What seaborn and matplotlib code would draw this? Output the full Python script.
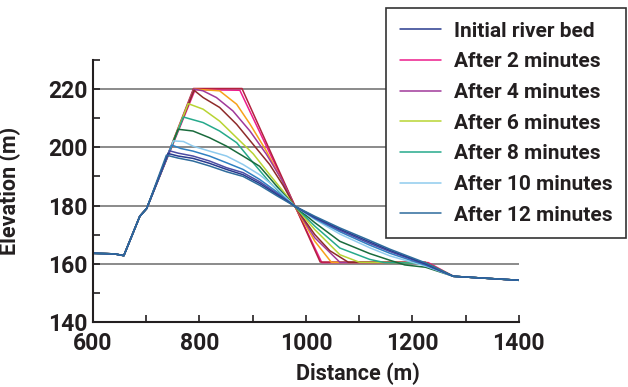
import matplotlib
matplotlib.use("Agg")
import matplotlib.pyplot as plt
import seaborn as sns
import pandas as pd

# shared upstream part and downstream tail of every profile
base_x = [600, 640, 658, 688, 701]
base_y = [163.6, 163.4, 162.8, 176.3, 179.0]
tail_x = [1277, 1340, 1403]
tail_y = [155.7, 155.0, 154.3]

# middle part of each profile (distance m, elevation m)
pink_x = [792, 876, 1030, 1230]
pink_y = [219.8, 219.6, 160.4, 160.4]
crimson_x = [789, 880, 1027, 1225]
crimson_y = [220.2, 220.2, 160.6, 160.5]
orange_x = [790, 838, 870, 895, 926, 955, 979, 1017, 1048, 1225]
orange_y = [220.0, 219.4, 214.8, 208.0, 198.7, 188.6, 179.8, 167.7, 160.5, 160.4]
purple_x = [790, 807, 832, 863, 895, 926, 955, 979, 1017, 1064, 1225]
purple_y = [220.0, 219.4, 217.1, 212.5, 205.6, 197.6, 188.8, 179.8, 168.9, 160.5, 160.4]
maroon_x = [790, 807, 838, 870, 901, 932, 957, 979, 1017, 1045, 1080, 1225]
maroon_y = [219.6, 217.1, 213.7, 207.9, 201.0, 194.1, 187.0, 179.8, 170.0, 164.5, 160.5, 160.4]
yg_x = [779, 807, 838, 870, 901, 932, 957, 979, 1017, 1064, 1101, 1225]
yg_y = [215.0, 213.1, 209.0, 203.3, 197.8, 190.6, 185.0, 179.8, 171.7, 163.1, 160.5, 160.3]
teal_x = [770, 807, 838, 870, 901, 932, 957, 979, 1017, 1064, 1120, 1148, 1225]
teal_y = [210.4, 208.5, 205.6, 201.6, 194.7, 188.0, 183.5, 179.8, 172.9, 165.4, 161.5, 160.4, 160.2]
dkgreen_x = [760, 788, 819, 851, 882, 913, 947, 979, 1017, 1064, 1120, 1158, 1186, 1225]
dkgreen_y = [206.2, 205.6, 203.3, 200.4, 197.0, 193.5, 186.3, 179.8, 174.1, 167.7, 163.5, 161.2, 159.6, 158.8]
ltblue_x = [751, 770, 788, 819, 851, 882, 913, 947, 979, 1017, 1064, 1120, 1158, 1225]
ltblue_y = [202.2, 202.0, 200.4, 198.7, 197.0, 194.1, 190.6, 185.6, 179.8, 175.2, 170.2, 165.5, 162.7, 159.2]
blue_x = [748, 765, 788, 819, 851, 882, 913, 947, 979, 1017, 1064, 1120, 1158, 1225]
blue_y = [200.8, 199.6, 198.7, 197.0, 194.7, 192.4, 189.0, 184.5, 179.8, 175.5, 171.0, 166.4, 163.6, 159.5]
indigo_x = [744, 760, 788, 819, 851, 882, 913, 947, 979, 1017, 1064, 1120, 1158, 1225]
indigo_y = [198.8, 198.0, 197.0, 195.3, 193.0, 191.3, 188.2, 184.0, 179.8, 175.8, 171.5, 167.0, 164.2, 159.8]
navy_x = [741, 760, 788, 819, 851, 882, 913, 947, 979, 1017, 1064, 1120, 1158, 1225]
navy_y = [197.9, 197.0, 196.2, 194.5, 192.4, 190.6, 187.6, 183.6, 179.8, 176.0, 171.9, 167.5, 164.6, 160.0]
steel_x = [738, 760, 788, 819, 851, 882, 913, 947, 979, 1017, 1064, 1120, 1158, 1225]
steel_y = [197.3, 196.3, 195.3, 193.6, 191.6, 190.0, 187.0, 183.2, 179.8, 176.3, 172.3, 168.0, 165.0, 160.3]

# (x, y, colour, legend label) in drawing order
series = [
    (pink_x, pink_y, "#ec1c8c", "After 2 minutes"),
    (crimson_x, crimson_y, "#b3213e", None),
    (orange_x, orange_y, "#f7a21b", None),
    (purple_x, purple_y, "#a0399a", "After 4 minutes"),
    (maroon_x, maroon_y, "#8e2b2b", None),
    (yg_x, yg_y, "#b8d433", "After 6 minutes"),
    (teal_x, teal_y, "#26a98b", "After 8 minutes"),
    (dkgreen_x, dkgreen_y, "#1a6b3c", None),
    (ltblue_x, ltblue_y, "#8fcbee", "After 10 minutes"),
    (blue_x, blue_y, "#2f80c2", None),
    (indigo_x, indigo_y, "#4b4ca3", None),
    (navy_x, navy_y, "#283a8e", "Initial river bed"),
    (steel_x, steel_y, "#2e6b9c", "After 12 minutes"),
]
legend_order = ["Initial river bed", "After 2 minutes", "After 4 minutes",
                "After 6 minutes", "After 8 minutes", "After 10 minutes",
                "After 12 minutes"]

sns.set_theme(style="white")
plt.rcParams["font.family"] = ["Roboto", "DejaVu Sans"]
text_col = "#231f20"
weight = "bold"

fig = plt.figure(figsize=(6.28, 3.87), dpi=100)
ax = fig.add_axes([0.148, 0.168, 0.678, 0.677])

handles = {}
for xs, ys, col, lab in series:
    df = pd.DataFrame({"distance": base_x + xs + tail_x,
                       "elevation": base_y + ys + tail_y})
    sns.lineplot(data=df, x="distance", y="elevation", color=col, lw=1.1,
                 sort=False, estimator=None, ax=ax, legend=False)
    if lab:
        handles[lab] = ax.lines[-1]

ax.set_xlim(600, 1400)
ax.set_ylim(140, 230)
ax.set_xticks([600, 800, 1000, 1200, 1400])
ax.set_xticks([700, 900, 1100, 1300], minor=True)
ax.set_yticks([140, 160, 180, 200, 220])
ax.set_yticks([150, 170, 190, 210, 230], minor=True)
for y in [160, 180, 200, 220]:
    ax.axhline(y, color="#8a8a8a", lw=1.4, zorder=0)

for s in ["top", "right"]:
    ax.spines[s].set_visible(False)
for s in ["left", "bottom"]:
    ax.spines[s].set_color(text_col)
    ax.spines[s].set_linewidth(1.5)
ax.tick_params(which="both", direction="in", color=text_col, width=1.2,
               left=True, bottom=True)
ax.tick_params(which="major", length=5, labelsize=16.5, labelcolor=text_col)
ax.tick_params(which="minor", length=5)
ax.tick_params(axis="x", pad=7)
ax.tick_params(axis="y", pad=4)
for t in ax.get_xticklabels() + ax.get_yticklabels():
    t.set_fontweight(weight)

ax.set_xlabel("Distance (m)", fontsize=15.5, fontweight=weight, color=text_col)
ax.set_ylabel("Elevation (m)", fontsize=15.5, fontweight=weight, color=text_col)
ax.xaxis.set_label_coords(0.622, -0.155)
ax.yaxis.set_label_coords(-0.168, 0.5)

leg = ax.legend([handles[l] for l in legend_order], legend_order,
                loc="upper right", bbox_to_anchor=(0.997, 0.979),
                bbox_transform=fig.transFigure, frameon=True, fancybox=False,
                framealpha=1, edgecolor="#333333", fontsize=15,
                handlelength=2.0, handletextpad=0.6, labelspacing=0.56,
                borderpad=0.65, borderaxespad=0)
leg.get_frame().set_linewidth(1.2)
for t in leg.get_texts():
    t.set_color(text_col)
    t.set_fontweight(weight)

fig.savefig("out.png", dpi=100)
